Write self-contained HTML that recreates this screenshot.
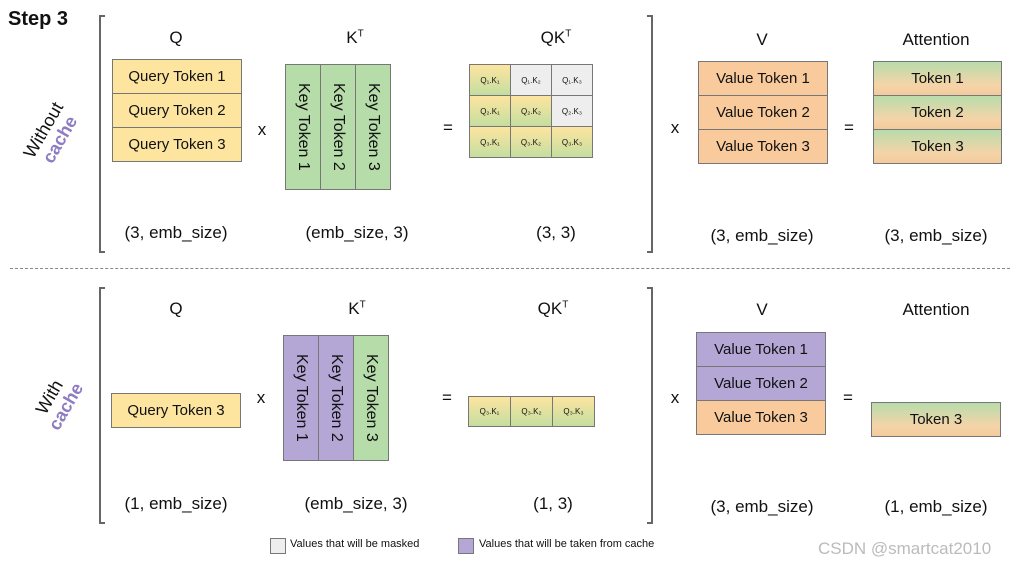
<!DOCTYPE html>
<html><head><meta charset="utf-8"><style>
body{margin:0;width:1018px;height:568px;background:#fff;position:relative;overflow:hidden;font-family:"Liberation Sans","DejaVu Sans",sans-serif;color:#111}
.a{position:absolute}
.t{position:absolute;transform:translate(-50%,-50%);white-space:nowrap;font-size:17px}
.box{position:absolute;border:1.5px solid #777;box-sizing:border-box;display:flex;align-items:center;justify-content:center;font-size:15px}
.y{background:#fde5a0}.g{background:#b6dcaa}.p{background:#b4a7d6}.o{background:#f9cb9c}.gr{background:#eeeeee}
.yg{background:linear-gradient(#fde5a0,#c4dea0)}
.at{background:linear-gradient(#b8dcab,#f5d4a8 70%,#f2cb9e)}
.col{writing-mode:vertical-rl;font-size:16px}
.c{font-size:8px}
.br{position:absolute;border:2px solid #666;width:4px}
.bl{border-right:none}.brr{border-left:none}
</style></head><body>
<div class="a" style="left:8px;top:8px;font-weight:bold;font-size:20px">Step 3</div>
<div class="t" style="left:52px;top:135px;transform:translate(-50%,-50%) rotate(-60deg);text-align:center;line-height:19px;font-size:18px">Without<br><b style="color:#8e7cc3">cache</b></div>
<div class="t" style="left:58px;top:402px;transform:translate(-50%,-50%) rotate(-60deg);text-align:center;line-height:19px;font-size:18px">With<br><b style="color:#8e7cc3">cache</b></div>

<div class="br bl" style="left:99px;top:15px;height:234px"></div>
<div class="br brr" style="left:647px;top:15px;height:234px"></div>
<div class="br bl" style="left:99px;top:287px;height:233px"></div>
<div class="br brr" style="left:647px;top:287px;height:233px"></div>
<div class="a" style="left:10px;top:268px;width:1000px;border-top:1.5px dashed #888"></div>

<!-- top -->
<div class="t" style="left:176px;top:38px">Q</div>
<div class="box y" style="left:112px;top:59px;width:130px;height:35px">Query Token 1</div>
<div class="box y" style="left:112px;top:93px;width:130px;height:35px">Query Token 2</div>
<div class="box y" style="left:112px;top:127px;width:130px;height:35px">Query Token 3</div>
<div class="t" style="left:262px;top:130px">x</div>
<div class="t" style="left:355px;top:38px">K<sup style="font-size:10px">T</sup></div>
<div class="box g col" style="left:285px;top:64px;width:36px;height:126px">Key Token 1</div>
<div class="box g col" style="left:320px;top:64px;width:36px;height:126px">Key Token 2</div>
<div class="box g col" style="left:355px;top:64px;width:36px;height:126px">Key Token 3</div>
<div class="t" style="left:448px;top:128px">=</div>
<div class="t" style="left:556px;top:38px">QK<sup style="font-size:10px">T</sup></div>
<div class="box yg c" style="left:469px;top:64px;width:42px;height:32px">Q₁.K₁</div>
<div class="box gr c" style="left:510px;top:64px;width:42px;height:32px">Q₁.K₂</div>
<div class="box gr c" style="left:551px;top:64px;width:42px;height:32px">Q₁.K₃</div>
<div class="box yg c" style="left:469px;top:95px;width:42px;height:32px">Q₂.K₁</div>
<div class="box yg c" style="left:510px;top:95px;width:42px;height:32px">Q₂.K₂</div>
<div class="box gr c" style="left:551px;top:95px;width:42px;height:32px">Q₂.K₃</div>
<div class="box yg c" style="left:469px;top:126px;width:42px;height:32px">Q₃.K₁</div>
<div class="box yg c" style="left:510px;top:126px;width:42px;height:32px">Q₃.K₂</div>
<div class="box yg c" style="left:551px;top:126px;width:42px;height:32px">Q₃.K₃</div>
<div class="t" style="left:176px;top:233px">(3, emb_size)</div>
<div class="t" style="left:357px;top:233px">(emb_size, 3)</div>
<div class="t" style="left:556px;top:233px">(3, 3)</div>
<div class="t" style="left:675px;top:128px">x</div>
<div class="t" style="left:762px;top:40px">V</div>
<div class="box o" style="left:698px;top:61px;width:130px;height:35px">Value Token 1</div>
<div class="box o" style="left:698px;top:95px;width:130px;height:35px">Value Token 2</div>
<div class="box o" style="left:698px;top:129px;width:130px;height:35px">Value Token 3</div>
<div class="t" style="left:849px;top:128px">=</div>
<div class="t" style="left:936px;top:40px">Attention</div>
<div class="box at" style="left:873px;top:61px;width:129px;height:35px">Token 1</div>
<div class="box at" style="left:873px;top:95px;width:129px;height:35px">Token 2</div>
<div class="box at" style="left:873px;top:129px;width:129px;height:35px">Token 3</div>
<div class="t" style="left:762px;top:236px">(3, emb_size)</div>
<div class="t" style="left:936px;top:236px">(3, emb_size)</div>

<!-- bottom -->
<div class="t" style="left:176px;top:309px">Q</div>
<div class="box y" style="left:111px;top:393px;width:130px;height:35px">Query Token 3</div>
<div class="t" style="left:261px;top:398px">x</div>
<div class="t" style="left:357px;top:309px">K<sup style="font-size:10px">T</sup></div>
<div class="box p col" style="left:283px;top:335px;width:36px;height:126px">Key Token 1</div>
<div class="box p col" style="left:318px;top:335px;width:36px;height:126px">Key Token 2</div>
<div class="box g col" style="left:353px;top:335px;width:36px;height:126px">Key Token 3</div>
<div class="t" style="left:447px;top:398px">=</div>
<div class="t" style="left:553px;top:309px">QK<sup style="font-size:10px">T</sup></div>
<div class="box yg c" style="left:468px;top:396px;width:43px;height:31px">Q₃.K₁</div>
<div class="box yg c" style="left:510px;top:396px;width:43px;height:31px">Q₃.K₂</div>
<div class="box yg c" style="left:552px;top:396px;width:43px;height:31px">Q₃.K₃</div>
<div class="t" style="left:176px;top:504px">(1, emb_size)</div>
<div class="t" style="left:356px;top:504px">(emb_size, 3)</div>
<div class="t" style="left:553px;top:504px">(1, 3)</div>
<div class="t" style="left:675px;top:398px">x</div>
<div class="t" style="left:762px;top:310px">V</div>
<div class="box p" style="left:696px;top:332px;width:130px;height:35px">Value Token 1</div>
<div class="box p" style="left:696px;top:366px;width:130px;height:35px">Value Token 2</div>
<div class="box o" style="left:696px;top:400px;width:130px;height:35px">Value Token 3</div>
<div class="t" style="left:848px;top:398px">=</div>
<div class="t" style="left:936px;top:310px">Attention</div>
<div class="box at" style="left:871px;top:402px;width:130px;height:35px">Token 3</div>
<div class="t" style="left:762px;top:507px">(3, emb_size)</div>
<div class="t" style="left:936px;top:507px">(1, emb_size)</div>

<div class="box gr" style="left:270px;top:538px;width:16px;height:16px"></div>
<div class="a" style="left:290px;top:538px;font-size:11px">Values that will be masked</div>
<div class="box p" style="left:458px;top:538px;width:16px;height:16px"></div>
<div class="a" style="left:479px;top:538px;font-size:11px">Values that will be taken from cache</div>
<div class="a" style="left:818px;top:539px;font-size:17px;color:#bbb">CSDN @smartcat2010</div>
</body></html>
